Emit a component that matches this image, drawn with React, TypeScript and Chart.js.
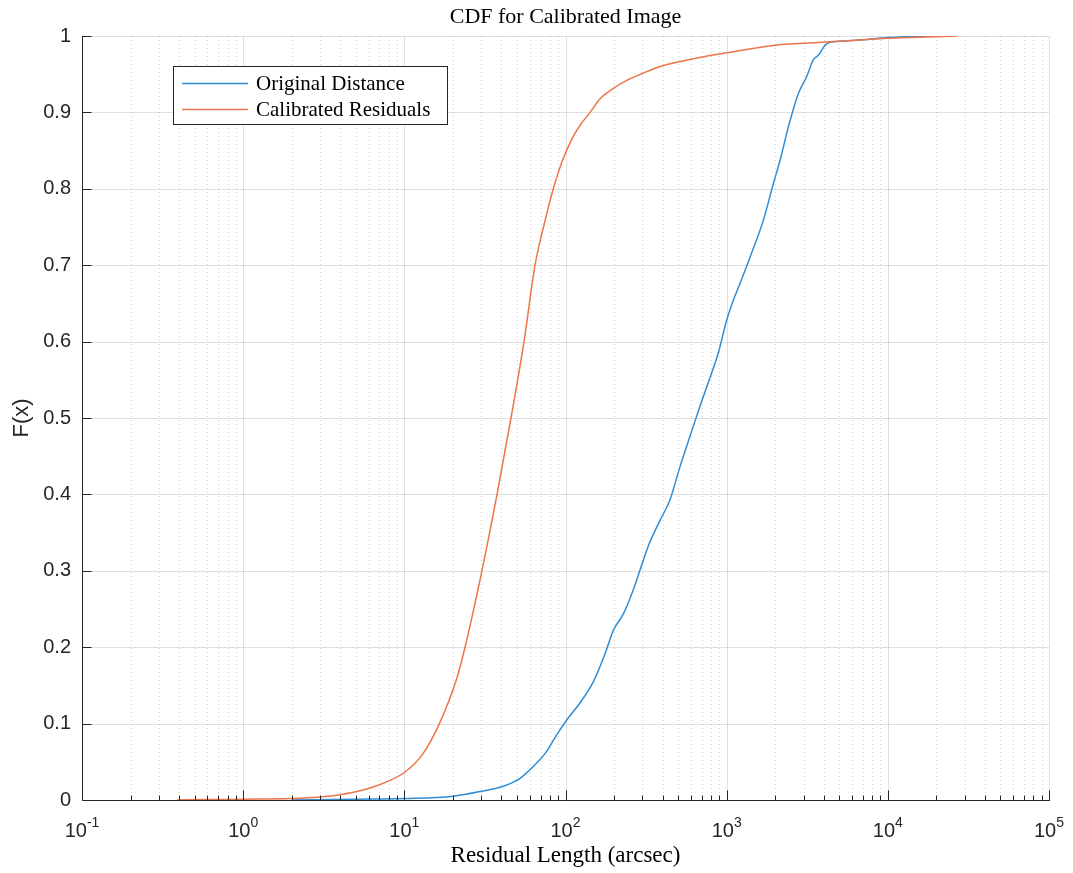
import React, { useEffect, useRef } from 'react';
import { Chart, registerables } from 'chart.js';

Chart.register(...registerables);

// ---------- data ----------
const titleText = 'CDF for Calibrated Image';
const xAxisLabel = 'Residual Length (arcsec)';
const yAxisLabel = 'F(x)';
const seriesNames = ['Original Distance', 'Calibrated Residuals'];
const seriesColors = ['#2f8ed6', '#ee7449'];

const origX = [2, 5, 10, 20, 29.5, 41, 52, 66, 76, 88, 102, 123, 149, 175, 198, 229, 260, 290, 330, 386, 445, 513, 592, 682, 780, 887, 1000, 1100, 1210, 1400, 1690, 1950, 2150, 2415, 2790, 3140, 3450, 3710, 4080, 4280, 5000, 7000, 10000, 18000];
const origY = [0, 0.001, 0.002, 0.005, 0.011, 0.018, 0.028, 0.048, 0.063, 0.085, 0.105, 0.127, 0.155, 0.19, 0.222, 0.244, 0.272, 0.301, 0.335, 0.366, 0.393, 0.436, 0.476, 0.515, 0.55, 0.585, 0.628, 0.654, 0.676, 0.711, 0.759, 0.807, 0.838, 0.881, 0.925, 0.947, 0.969, 0.975, 0.988, 0.991, 0.993, 0.995, 0.998, 1.0];

const calX = [0.39, 0.6, 1, 2, 3, 4, 5.3, 7.2, 10, 13, 16.5, 21, 23.8, 30.3, 37.6, 45.9, 55.3, 64.7, 75, 84, 95, 110, 125, 142, 164, 200, 240, 300, 386, 500, 680, 1000, 2000, 4100, 10000, 27000];
const calY = [0, 0.0005, 0.001, 0.002, 0.004, 0.007, 0.012, 0.021, 0.036, 0.06, 0.1, 0.157, 0.2, 0.3, 0.4, 0.5, 0.6, 0.7, 0.76, 0.8, 0.835, 0.866, 0.885, 0.9, 0.918, 0.932, 0.942, 0.951, 0.96, 0.966, 0.972, 0.978, 0.988, 0.992, 0.997, 1.0];

const xMajorTicks = [0.1, 1, 10, 100, 1000, 10000, 100000];
const xTickBase = '10';
const xTickExponents = ['-1', '0', '1', '2', '3', '4', '5'];
const yTicks = [0, 0.1, 0.2, 0.3, 0.4, 0.5, 0.6, 0.7, 0.8, 0.9, 1];
const yTickLabels = ['0', '0.1', '0.2', '0.3', '0.4', '0.5', '0.6', '0.7', '0.8', '0.9', '1'];
const minorMultipliers = [2, 3, 4, 5, 6, 7, 8, 9];

// ---------- styling ----------
const SANS = "'Liberation Sans', Arial, Helvetica, sans-serif";
const SERIF = "'Liberation Serif', 'Times New Roman', serif";
const AXIS_COLOR = '#262626';

function minorXValues(): number[] {
  const out: number[] = [];
  for (let i = 0; i < xMajorTicks.length - 1; i++) {
    for (const m of minorMultipliers) out.push(xMajorTicks[i] * m);
  }
  return out;
}

const decorPlugin = {
  id: 'matlabDecor',
  beforeDatasetsDraw(chart: any) {
    const { ctx, chartArea: a, scales } = chart;
    const x = scales.x;
    const y = scales.y;
    ctx.save();
    ctx.lineWidth = 1;
    // minor dotted x grid
    ctx.strokeStyle = 'rgba(38,38,38,0.22)';
    ctx.setLineDash([1, 3]);
    for (const v of minorXValues()) {
      const px = Math.round(x.getPixelForValue(v)) + 0.5;
      ctx.beginPath();
      ctx.moveTo(px, a.top);
      ctx.lineTo(px, a.bottom);
      ctx.stroke();
    }
    // major solid grid
    ctx.setLineDash([]);
    ctx.strokeStyle = 'rgba(38,38,38,0.14)';
    for (const v of xMajorTicks) {
      const px = Math.round(x.getPixelForValue(v)) + 0.5;
      ctx.beginPath();
      ctx.moveTo(px, a.top);
      ctx.lineTo(px, a.bottom);
      ctx.stroke();
    }
    for (const v of yTicks) {
      const py = Math.round(y.getPixelForValue(v)) + 0.5;
      ctx.beginPath();
      ctx.moveTo(a.left, py);
      ctx.lineTo(a.right, py);
      ctx.stroke();
    }
    ctx.restore();
  },
  afterDatasetsDraw(chart: any) {
    const { ctx, chartArea: a, scales } = chart;
    const x = scales.x;
    const y = scales.y;
    ctx.save();
    ctx.strokeStyle = AXIS_COLOR;
    ctx.lineWidth = 1;
    const left = Math.round(a.left) + 0.5;
    const bottom = Math.round(a.bottom) + 0.5;
    // axis lines
    ctx.beginPath();
    ctx.moveTo(left, Math.round(a.top));
    ctx.lineTo(left, bottom);
    ctx.lineTo(Math.round(a.right) + 1, bottom);
    ctx.stroke();
    // x ticks (inward)
    for (const v of xMajorTicks) {
      const px = Math.round(x.getPixelForValue(v)) + 0.5;
      ctx.beginPath();
      ctx.moveTo(px, bottom);
      ctx.lineTo(px, bottom - 10);
      ctx.stroke();
    }
    for (const v of minorXValues()) {
      const px = Math.round(x.getPixelForValue(v)) + 0.5;
      ctx.beginPath();
      ctx.moveTo(px, bottom);
      ctx.lineTo(px, bottom - 5);
      ctx.stroke();
    }
    // y ticks (inward)
    for (const v of yTicks) {
      const py = Math.round(y.getPixelForValue(v)) + 0.5;
      ctx.beginPath();
      ctx.moveTo(left, py);
      ctx.lineTo(left + 9, py);
      ctx.stroke();
    }
    // x tick labels with superscripts
    ctx.fillStyle = AXIS_COLOR;
    ctx.textBaseline = 'alphabetic';
    ctx.textAlign = 'left';
    xMajorTicks.forEach((v, i) => {
      const px = x.getPixelForValue(v);
      ctx.font = `20px ${SANS}`;
      const wb = ctx.measureText(xTickBase).width;
      ctx.font = `14px ${SANS}`;
      const we = ctx.measureText(xTickExponents[i]).width;
      const start = px - (wb + we) / 2;
      ctx.font = `20px ${SANS}`;
      ctx.fillText(xTickBase, start, a.bottom + 37);
      ctx.font = `14px ${SANS}`;
      ctx.fillText(xTickExponents[i], start + wb, a.bottom + 27);
    });
    // axis titles
    const cx = (a.left + a.right) / 2;
    ctx.fillStyle = '#000';
    ctx.textAlign = 'center';
    ctx.textBaseline = 'middle';
    ctx.font = `23px ${SERIF}`;
    ctx.fillText(xAxisLabel, cx, 856);
    ctx.font = `22px ${SERIF}`;
    ctx.fillText(titleText, cx, 17);
    ctx.save();
    ctx.translate(22, (a.top + a.bottom) / 2);
    ctx.rotate(-Math.PI / 2);
    ctx.font = `22px ${SANS}`;
    ctx.fillStyle = AXIS_COLOR;
    ctx.fillText(yAxisLabel, 0, 0);
    ctx.restore();
    // legend box
    const bx = 173.5, by = 66.5, bw = 274, bh = 58;
    ctx.fillStyle = '#fff';
    ctx.fillRect(bx, by, bw, bh);
    ctx.strokeStyle = AXIS_COLOR;
    ctx.lineWidth = 1;
    ctx.strokeRect(bx, by, bw, bh);
    chart.data.datasets.forEach((ds: any, i: number) => {
      const ly = by + 17 + i * 26;
      ctx.strokeStyle = ds.borderColor;
      ctx.lineWidth = 1.5;
      ctx.beginPath();
      ctx.moveTo(182, ly);
      ctx.lineTo(248, ly);
      ctx.stroke();
      ctx.fillStyle = '#000';
      ctx.textAlign = 'left';
      ctx.textBaseline = 'middle';
      ctx.font = `21px ${SERIF}`;
      ctx.fillText(ds.label, 256, ly + 1);
    });
    ctx.restore();
  },
};

export default function App() {
  const canvasRef = useRef<HTMLCanvasElement | null>(null);

  useEffect(() => {
    const canvas = canvasRef.current;
    if (!canvas) return;
    const toPoints = (xs: number[], ys: number[]) => xs.map((v, i) => ({ x: v, y: ys[i] }));
    const chart = new Chart(canvas, {
      type: 'scatter',
      data: {
        datasets: [
          {
            label: seriesNames[0],
            data: toPoints(origX, origY),
            borderColor: seriesColors[0],
            backgroundColor: seriesColors[0],
            showLine: true,
            pointRadius: 0,
            borderWidth: 1.5,
            cubicInterpolationMode: 'monotone',
            order: 1,
          },
          {
            label: seriesNames[1],
            data: toPoints(calX, calY),
            borderColor: seriesColors[1],
            backgroundColor: seriesColors[1],
            showLine: true,
            pointRadius: 0,
            borderWidth: 1.5,
            cubicInterpolationMode: 'monotone',
            order: 0,
          },
        ],
      },
      options: {
        responsive: false,
        animation: false,
        devicePixelRatio: 1,
        layout: { padding: { top: 36, right: 24, left: 0, bottom: 0 } },
        plugins: {
          legend: { display: false },
          title: { display: false },
          tooltip: { enabled: false },
        },
        scales: {
          x: {
            type: 'logarithmic',
            min: 0.1,
            max: 100000,
            grid: { display: false },
            border: { display: false },
            ticks: { display: false },
            afterFit: (scale: any) => {
              scale.height = 73;
            },
          },
          y: {
            type: 'linear',
            min: 0,
            max: 1,
            grid: { display: false, drawTicks: false },
            border: { display: false },
            afterBuildTicks: (scale: any) => {
              scale.ticks = yTicks.map((v) => ({ value: v }));
            },
            ticks: {
              padding: 11,
              color: AXIS_COLOR,
              font: { family: SANS, size: 20 },
              callback: (_v: any, i: number) => yTickLabels[i],
            },
            afterFit: (scale: any) => {
              scale.width = 82;
            },
          },
        },
      },
      plugins: [decorPlugin],
    } as any);
    return () => chart.destroy();
  }, []);

  return (
    <div style={{ position: 'absolute', left: 0, top: 0, width: 1073, height: 873, background: '#fff' }}>
      <canvas ref={canvasRef} width={1073} height={873} style={{ display: 'block' }} />
    </div>
  );
}
